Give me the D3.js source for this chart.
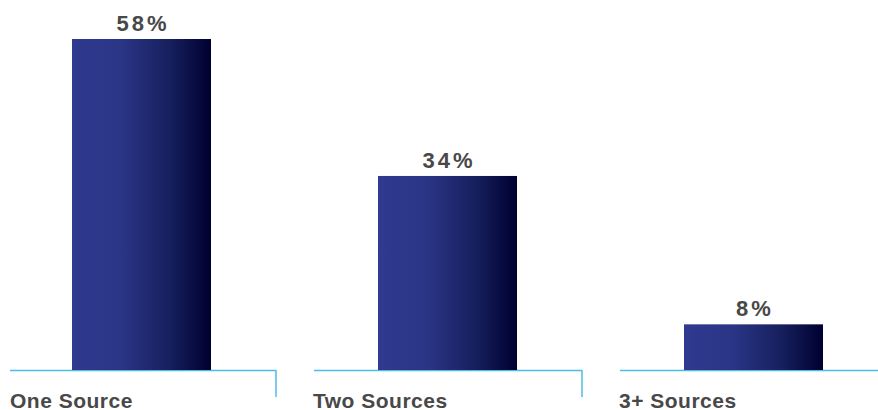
<!DOCTYPE html>
<html>
<head>
<meta charset="utf-8">
<script src="https://cdn.jsdelivr.net/npm/d3@7"></script>
<style>
    body { margin: 0; background: #fff; }
    text { font-family: "Liberation Sans", Arial, sans-serif; }
</style>
</head>
<body>
<div id="chart"></div>
<script>
// data
let categories = ["One Source", "Two Sources", "3+ Sources"];
let values = [58, 34, 8];
let valueLabels = ["58%", "34%", "8%"];

let width = 878, height = 410;
let baseline = 370;

let svg = d3.select("#chart").append("svg")
    .attr("width", width)
    .attr("height", height);

// gradient for bars
let grad = svg.append("defs").append("linearGradient")
    .attr("id", "barGrad")
    .attr("x1", "0%").attr("x2", "100%")
    .attr("y1", "0%").attr("y2", "0%");
grad.append("stop").attr("offset", "0%").attr("stop-color", "#2f3a90");
grad.append("stop").attr("offset", "35%").attr("stop-color", "#2a3586");
grad.append("stop").attr("offset", "70%").attr("stop-color", "#16205e");
grad.append("stop").attr("offset", "100%").attr("stop-color", "#000030");

// scales
let x = d3.scaleBand()
    .domain(categories)
    .range([0, 918])
    .padding(0);

let y = d3.scaleLinear()
    .domain([0, 58])
    .range([baseline, 39]);

let barOffset = 72, barWidth = 139;

let groups = svg.selectAll(".grp")
    .data(categories)
    .enter()
    .append("g")
    .attr("class", "grp")
    .attr("transform", d => `translate(${x(d)}, 0)`);

// baseline segments
groups.append("line")
    .attr("x1", (d, i) => i === 0 ? 10 : 8)
    .attr("x2", (d, i) => i === categories.length - 1 ? 280 : 276)
    .attr("y1", baseline + 0.5)
    .attr("y2", baseline + 0.5)
    .attr("stroke", "#4bbbe8")
    .attr("stroke-width", 1.5);

// vertical dividers
groups.filter((d, i) => i < categories.length - 1)
    .append("line")
    .attr("x1", 276)
    .attr("x2", 276)
    .attr("y1", baseline)
    .attr("y2", 397)
    .attr("stroke", "#4bbbe8")
    .attr("stroke-width", 1.5);

// bars
groups.append("rect")
    .attr("x", barOffset)
    .attr("width", barWidth)
    .attr("y", (d, i) => y(values[i]))
    .attr("height", (d, i) => baseline - y(values[i]))
    .attr("fill", "url(#barGrad)");

// value labels (letter-spacing adds a trailing gap, so nudge right)
groups.append("text")
    .attr("x", barOffset + barWidth / 2 + 1.5)
    .attr("y", (d, i) => y(values[i]) - 8)
    .attr("text-anchor", "middle")
    .attr("font-size", 22)
    .attr("font-weight", "bold")
    .attr("letter-spacing", 3)
    .attr("fill", "#484848")
    .text((d, i) => valueLabels[i]);

// category labels
groups.append("text")
    .attr("x", (d, i) => i === 0 ? 10 : 7)
    .attr("y", 408)
    .attr("font-size", 21)
    .attr("font-weight", "bold")
    .attr("letter-spacing", 0.5)
    .attr("fill", "#484848")
    .text(d => d);
</script>
</body>
</html>
